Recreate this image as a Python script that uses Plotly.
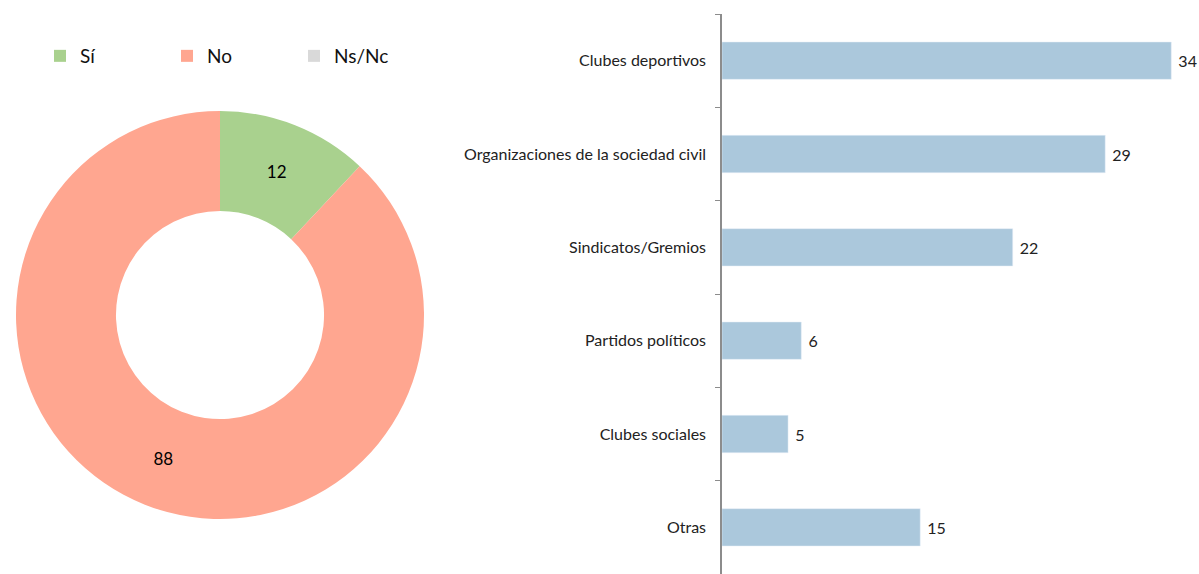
import plotly.graph_objects as go

PIE_LABELS = ["Sí", "No", "Ns/Nc"]
PIE_VALUES = [12, 88, 0]
PIE_COLORS = ["#a9d18e", "#ffa690", "#d9d9d9"]

CATEGORIES = [
    "Clubes deportivos",
    "Organizaciones de la sociedad civil",
    "Sindicatos/Gremios",
    "Partidos políticos",
    "Clubes sociales",
    "Otras",
]
BAR_VALUES = [34, 29, 22, 6, 5, 15]

W, H = 1199, 574


def px_x(x):
    return x / W


def px_y(y):
    return 1 - y / H


fig = go.Figure()

fig.add_trace(
    go.Pie(
        labels=PIE_LABELS,
        values=PIE_VALUES,
        marker={"colors": PIE_COLORS},
        hole=0.51,
        sort=False,
        direction="clockwise",
        rotation=0,
        textinfo="value",
        textposition="inside",
        insidetextorientation="horizontal",
        textfont={"size": 17, "color": "#000000"},
        domain={"x": [px_x(10), px_x(430)], "y": [px_y(519), px_y(111)]},
        showlegend=True,
    )
)

fig.add_trace(
    go.Bar(
        x=BAR_VALUES,
        y=CATEGORIES,
        orientation="h",
        marker={"color": "#abc8dc"},
        text=BAR_VALUES,
        texttemplate="\u00a0%{text}",
        textposition="outside",
        cliponaxis=False,
        textfont={"size": 16, "color": "#222222"},
        showlegend=False,
        xaxis="x",
        yaxis="y",
    )
)

fig.update_layout(
    width=W,
    height=H,
    margin={"l": 0, "r": 0, "t": 0, "b": 0, "autoexpand": False},
    paper_bgcolor="white",
    plot_bgcolor="white",
    font={"family": "Lato, sans-serif", "size": 16, "color": "#222222"},
    bargap=0.6,
    legend={
        "orientation": "h",
        "x": px_x(40),
        "y": px_y(37),
        "xanchor": "left",
        "yanchor": "top",
        "font": {"size": 19, "color": "#111111"},
        "entrywidth": 82,
        "entrywidthmode": "pixels",
        "itemsizing": "constant",
    },
    xaxis={
        "domain": [px_x(722), 1.0],
        "range": [0, 36.1],
        "visible": False,
    },
    yaxis={
        "domain": [0, px_y(14)],
        "autorange": "reversed",
        "showline": True,
        "linecolor": "#8c8c8c",
        "linewidth": 1.5,
        "ticks": "outside",
        "tickson": "boundaries",
        "ticklen": 5,
        "tickcolor": "#8c8c8c",
        "ticklabelstandoff": 11,
        "showgrid": False,
        "zeroline": False,
        "automargin": False,
        "anchor": "x",
    },
)

# drop the default 8px page margin so the figure fills the window exactly
fig.write_html(
    "out.html",
    config={"displayModeBar": False},
    post_script="document.body.style.margin='0';document.body.style.overflow='hidden';",
)
